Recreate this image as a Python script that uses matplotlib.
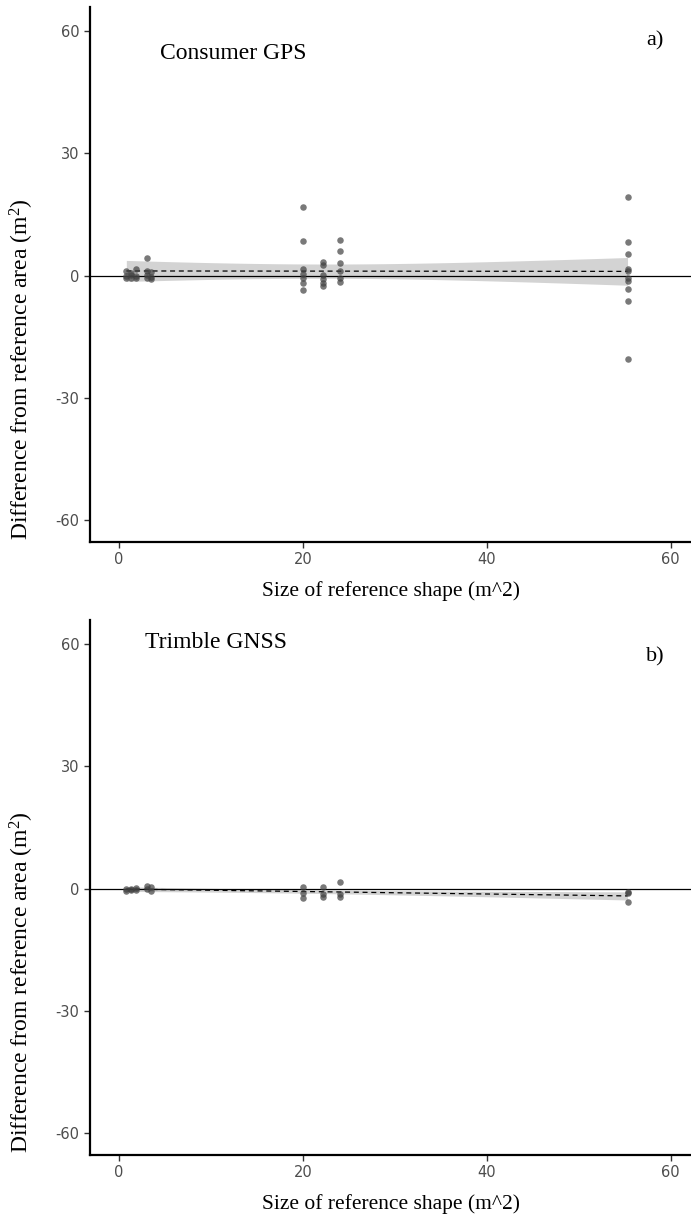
import numpy as np
import matplotlib
matplotlib.use("Agg")
import matplotlib.pyplot as plt

# Tamaños de las formas de referencia (m^2) y diferencias medidas
tamanos_consumer = [0.8, 0.8, 0.8, 1.3, 1.3, 1.3, 1.9, 1.9, 1.9,
                    3.1, 3.1, 3.1, 3.1, 3.5, 3.5, 3.5,
                    20.0, 20.0, 20.0, 20.0, 20.0, 20.0, 20.0,
                    22.2, 22.2, 22.2, 22.2, 22.2, 22.2,
                    24.0, 24.0, 24.0, 24.0, 24.0, 24.0,
                    55.3, 55.3, 55.3, 55.3, 55.3, 55.3, 55.3, 55.3, 55.3, 55.3]
dif_consumer = [1.0, 0.0, -0.5, 0.5, -0.5, 0.2, 1.5, 0.0, -0.6,
                4.3, 1.0, 0.2, -0.5, 0.8, -0.3, -0.8,
                16.8, 8.5, 1.5, 0.3, -0.7, -1.8, -3.5,
                3.2, 2.5, 0.2, -0.8, -1.8, -2.5,
                8.8, 6.0, 3.0, 1.2, -0.5, -1.5,
                19.4, 8.3, 5.4, 1.5, 1.0, -0.7, -1.3, -3.4, -6.3, -20.5]

tamanos_trimble = [0.8, 0.8, 1.3, 1.3, 1.9, 1.9, 3.1, 3.1, 3.5, 3.5,
                   20.0, 20.0, 20.0, 22.2, 22.2, 22.2, 24.0, 24.0, 24.0,
                   55.3, 55.3, 55.3]
dif_trimble = [-0.2, -0.5, 0.0, -0.4, -0.3, 0.1, 0.6, -0.2, 0.3, -0.5,
               0.4, -1.2, -2.4, 0.4, -1.4, -2.0, 1.5, -1.4, -2.0,
               -0.8, -1.2, -3.2]

paneles = ["Consumer GPS", "Trimble GNSS"]
letras = ["a)", "b)"]
y_ticks = [-60, -30, 0, 30, 60]
x_ticks = [0, 20, 40, 60]

plt.rcParams["axes.unicode_minus"] = False
plt.rcParams["mathtext.fontset"] = "custom"
plt.rcParams["mathtext.rm"] = "Liberation Serif"
plt.rcParams["mathtext.it"] = "Liberation Serif:italic"

W, H = 691, 1217
fig = plt.figure(figsize=(W / 100, H / 100), dpi=100)
serif = "Liberation Serif"


def dibujar_panel(top_px, x, y, titulo, letra, pos_titulo, y_letra):
    ax = fig.add_axes([90 / W, (H - top_px - 535) / H, 601 / W, 535 / H])
    x = np.array(x)
    y = np.array(y)
    # Ajuste lineal con banda de confianza
    b, a = np.polyfit(x, y, 1)
    xs = np.linspace(x.min(), x.max(), 100)
    ys = a + b * xs
    res = y - (a + b * x)
    s = np.sqrt(np.sum(res ** 2) / (len(x) - 2))
    se = s * np.sqrt(1 / len(x) + (xs - x.mean()) ** 2 / np.sum((x - x.mean()) ** 2))
    ax.fill_between(xs, ys - 2.02 * se, ys + 2.02 * se, color="#cccccc", alpha=0.85, lw=0, zorder=1)
    ax.axhline(0, color="black", lw=0.9, zorder=2)
    ax.plot(xs, ys, color="black", lw=0.9, ls=(0, (4, 3)), zorder=3)
    ax.scatter(x, y, s=22, color="#404040", alpha=0.7, lw=0, zorder=4)

    ax.set_xlim(-3.15, 62.2)
    ax.set_ylim(-65.5, 66)
    ax.set_xticks(x_ticks)
    ax.set_yticks(y_ticks)
    for lado in ["top", "right"]:
        ax.spines[lado].set_visible(False)
    for lado in ["left", "bottom"]:
        ax.spines[lado].set_linewidth(1.6)
    ax.tick_params(length=4, width=1, color="#333333", labelcolor="#4d4d4d", labelsize=10.5)
    ax.set_xlabel("Size of reference shape (m^2)", fontfamily=serif, fontsize=15.5, labelpad=10)
    ax.text(pos_titulo[0], pos_titulo[1], titulo, fontfamily=serif, fontsize=17, ha="center", va="center")
    ax.text(58.3, y_letra, letra, fontfamily=serif, fontsize=16, ha="center", va="center")
    # La etiqueta del eje y está desplazada hacia abajo, como en el original
    fig.text(22 / W, 1 - (top_px + 362) / H, "Difference from reference area (m$^2$)",
             fontfamily=serif, fontsize=17, rotation=90, ha="center", va="center")
    return ax


dibujar_panel(7, tamanos_consumer, dif_consumer, paneles[0], letras[0], (12.4, 54.5), 57.7)
dibujar_panel(620, tamanos_trimble, dif_trimble, paneles[1], letras[1], (10.5, 60.5), 57.0)

fig.savefig("out.png", dpi=100)
